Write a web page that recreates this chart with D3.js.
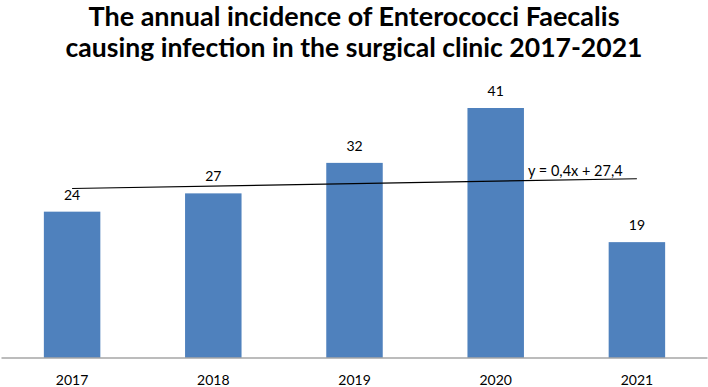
<!DOCTYPE html>
<html><head><meta charset="utf-8">
<script src="https://cdn.jsdelivr.net/npm/d3@7"></script>
<style>body{margin:0;background:#fff}svg{display:block}</style>
</head><body>
<script>
const years = ["2017","2018","2019","2020","2021"];
const cases = [24, 27, 32, 41, 19];
const trendSlope = 0.4, trendIntercept = 27.4;
const trendLabel = "y = 0,4x + 27,4";
const titleLines = ["The annual incidence of Enterococci Faecalis","causing infection in the surgical clinic 2017-2021"];

const W = 708, H = 387;
const svg = d3.select("body").append("svg").attr("width", W).attr("height", H);
const font = "Lato, 'Open Sans', sans-serif";

const x = d3.scaleBand().domain(years).range([1.5, 707.5]).paddingInner(0.6).paddingOuter(0.3);
const y = d3.scaleLinear().domain([0, 41]).range([358, 108]);

// title
const tl = [{t:titleLines[0], y:26, w:531},{t:titleLines[1], y:57, w:577}];
svg.selectAll("text.title").data(tl).join("text").attr("class","title")
  .attr("x", 354).attr("y", d=>d.y).attr("text-anchor","middle")
  .attr("font-family", font).attr("font-weight","bold").attr("font-size", 26)
  .attr("textLength", d=>d.w).attr("lengthAdjust","spacingAndGlyphs")
  .attr("fill","#000").text(d=>d.t);

// bars
svg.selectAll("rect.bar").data(years).join("rect").attr("class","bar")
  .attr("x", d=>x(d)).attr("width", x.bandwidth())
  .attr("y", (d,i)=>y(cases[i])).attr("height", (d,i)=>y(0)-y(cases[i]))
  .attr("fill", "#4F81BD");

// axis
const ax = d3.axisBottom(x).tickSize(0).tickPadding(17);
const g = svg.append("g").attr("transform", `translate(0,${y(0)})`).call(ax);
g.select(".domain").attr("stroke", "#A6A6A6").attr("stroke-width", 1.3).attr("d", "M1.5,0H707.5");
g.selectAll("text").attr("font-family", font).attr("font-size", 14).attr("fill","#000");

// data labels
svg.selectAll("text.lbl").data(years).join("text").attr("class","lbl")
  .attr("x", d=>x(d)+x.bandwidth()/2).attr("y", (d,i)=>y(cases[i])-12)
  .attr("text-anchor","middle").attr("font-family", font).attr("font-size", 14)
  .attr("fill","#000").text((d,i)=>cases[i]);

// trend line
const pts = years.map((d,i)=>[x(d)+x.bandwidth()/2, y(trendSlope*(i+1)+trendIntercept)]);
svg.append("path").attr("d", d3.line()([pts[0], pts[pts.length-1]]))
  .attr("stroke","#000").attr("stroke-width",1.2).attr("fill","none");
svg.append("text").attr("x", 528).attr("y", 176).attr("font-family", font).attr("font-size", 14.5)
  .attr("fill","#000").text(trendLabel);
</script>
</body></html>
